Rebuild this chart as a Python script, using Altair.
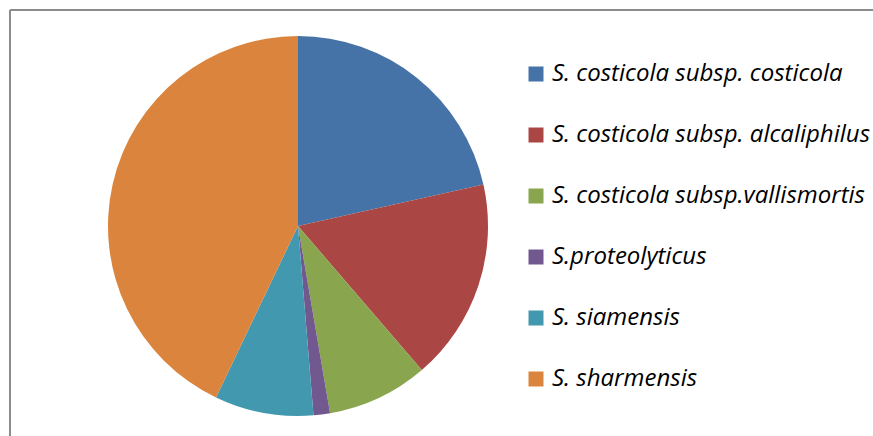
import altair as alt
import pandas as pd

species = [
    "S. costicola subsp. costicola",
    "S. costicola subsp. alcaliphilus",
    "S. costicola subsp.vallismortis",
    "S.proteolyticus",
    "S. siamensis",
    "S. sharmensis",
]
shares = [21.5, 17.2, 8.6, 1.4, 8.4, 42.9]
colors = ["#4572A7", "#AA4643", "#89A54E", "#71588F", "#4198AF", "#DB843D"]

df = pd.DataFrame({"species": species, "share": shares, "idx": list(range(len(species)))})

W, H = 863, 426

pie = (
    alt.Chart(df)
    .mark_arc(radius=190)
    .encode(
        theta=alt.Theta("share:Q", stack=True),
        order=alt.Order("idx:Q"),
        x=alt.value(288),
        y=alt.value(216),
        color=alt.Color(
            "species:N",
            scale=alt.Scale(domain=species, range=colors),
            sort=species,
            legend=alt.Legend(
                title=None,
                orient="none",
                legendX=514,
                legendY=52,
                symbolType="square",
                symbolSize=225,
                symbolStrokeWidth=0,
                labelFont="Open Sans",
                labelFontStyle="italic",
                labelFontSize=24,
                labelColor="#000000",
                labelOffset=4,
                rowPadding=37,
                labelLimit=400,
            ),
        ),
    )
)

top_border = alt.Chart(df).mark_rule(color="#8c8c8c", strokeWidth=2).encode(
    x=alt.value(0), x2=alt.value(W + 5), y=alt.value(0)
)
left_border = alt.Chart(df).mark_rule(color="#8c8c8c", strokeWidth=2).encode(
    x=alt.value(0), y=alt.value(0), y2=alt.value(H + 5)
)

chart = (
    alt.layer(top_border, left_border, pie)
    .properties(width=W, height=H, padding={"left": 10, "top": 10, "right": 0, "bottom": 0}, autosize="none")
    .configure_view(stroke=None)
)

chart.save("out.html", embed_options={"renderer": "svg", "actions": False})
